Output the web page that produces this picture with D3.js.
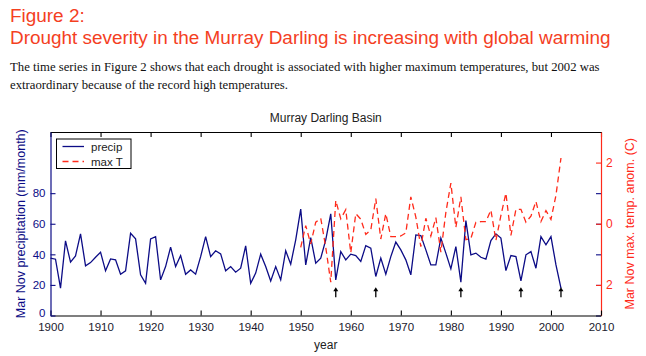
<!DOCTYPE html>
<html><head><meta charset="utf-8">
<script src="https://cdn.jsdelivr.net/npm/d3@7/dist/d3.min.js"></script>
<style>body{margin:0;background:#fff}svg{display:block}</style>
</head><body><svg id="c" width="646" height="356"></svg>
<script>
// ---- data ----
const precipStart = 1900;
const precip = [37.5,36.8,17.9,48.8,34.9,39.0,53.4,32.5,34.6,38.1,
  41.4,29.2,37.0,36.4,27.0,29.2,53.8,50.1,26.6,21.1,
  50.1,51.6,23.3,32.0,44.7,32.0,39.2,27.0,29.8,27.0,
  38.5,51.6,38.5,42.3,40.3,29.2,32.0,28.3,30.9,45.5,
  21.1,27.7,40.1,32.0,22.6,32.0,23.3,42.3,33.6,49.5,
  69.6,33.1,51.0,34.2,37.5,49.5,66.5,23.3,41.8,36.4,
  40.1,39.2,35.3,45.7,44.0,25.5,37.5,27.0,38.5,48.0,
  42.9,36.4,26.6,52.7,52.3,42.9,33.1,33.1,50.6,40.8,
  30.5,45.1,21.8,62.1,39.7,40.8,38.1,36.8,49.0,53.4,
  50.6,29.4,39.2,38.5,22.6,39.7,41.8,30.9,51.6,46.2,
  51.6,33.1,17.9];
const tempStart = 1950;
const maxT = [-0.77,-0.06,-0.66,0.05,0.18,-0.77,-1.91,0.76,0.16,0.46,
  -0.95,0.33,0.15,-0.35,-0.2,0.82,-0.5,0.33,-0.42,-0.42,
  -0.4,-0.3,0.88,0.22,-0.75,0.18,-0.4,0.2,-0.93,0.37,
  1.33,-0.12,0.88,-0.52,-0.48,0.05,0.07,0.07,0.45,-0.55,
  0.27,1.0,-0.38,0.47,0.47,0.05,0.25,0.73,0.07,0.43,
  0.14,0.93,2.15];
const droughtYears = [1957,1965,1982,1994,2002];
const xTicks = [1900,1910,1920,1930,1940,1950,1960,1970,1980,1990,2000,2010];
const yLeftTicks = [0,20,40,60,80];
const yRightTicks = [-2,0,2];
const seriesNames = ["precip","max T"];

const NAVY = "#0c0c86", RED = "#ff2a1a", TITLE = "#f4401f";
const svg = d3.select("#c");

// ---- header texts ----
function fit(sel, w){
  const cur = parseFloat(sel.attr("font-size"));
  const len = sel.node().getComputedTextLength();
  sel.attr("font-size", cur*w/len);
  return cur*w/len;
}
const t2 = svg.append("text").attr("x",10).attr("y",44).attr("font-family","Liberation Sans, Arial, sans-serif")
  .attr("font-size",20).attr("fill",TITLE).text("Drought severity in the Murray Darling is increasing with global warming");
const fs = fit(t2, 601);
svg.append("text").attr("x",10).attr("y",22).attr("font-family","Liberation Sans, Arial, sans-serif")
  .attr("font-size",fs).attr("fill",TITLE).text("Figure 2:");
const p1 = svg.append("text").attr("x",10).attr("y",71).attr("font-family","Liberation Serif, Times New Roman, serif")
  .attr("font-size",13).attr("fill","#111").text("The time series in Figure 2 shows that each drought is associated with higher maximum temperatures, but 2002 was");
const pfs = fit(p1, 590);
svg.append("text").attr("x",10).attr("y",89).attr("font-family","Liberation Serif, Times New Roman, serif")
  .attr("font-size",pfs).attr("fill","#111").text("extraordinary because of the record high temperatures.");

// ---- chart ----
const L = 50.5, R = 601, T = 132, B = 315.5;
const x = d3.scaleLinear().domain([1900,2010]).range([L,R]);
const yL = d3.scaleLinear().domain([0,120]).range([B,T]);
const yR = d3.scaleLinear().domain([-3,3]).range([B,T]);
const FONT = "Liberation Sans, Arial, sans-serif";

svg.append("rect").attr("x",L).attr("y",T).attr("width",R-L).attr("height",B-T).attr("fill","#fff");

function styleAxis(g, color, fsz){
  g.select(".domain").attr("stroke",color).attr("stroke-width",1.2);
  g.selectAll(".tick line").attr("stroke",color).attr("stroke-width",1.1);
  g.selectAll(".tick text").attr("fill",color).attr("font-family",FONT).attr("font-size",fsz);
}
// top axis
const gTop = svg.append("g").attr("transform",`translate(0,${T})`)
  .call(d3.axisTop(x).tickValues(xTicks).tickSize(-5).tickSizeOuter(0).tickFormat(""));
styleAxis(gTop,"#000",11);
// right mirrored left ticks
const gRm = svg.append("g").attr("transform",`translate(${R},0)`)
  .call(d3.axisRight(yL).tickValues(yLeftTicks).tickSize(-5).tickSizeOuter(0).tickFormat(""));
styleAxis(gRm,NAVY,11);
gRm.select(".domain").remove();
// right axis
const gR = svg.append("g").attr("transform",`translate(${R},0)`)
  .call(d3.axisRight(yR).tickValues(yRightTicks).tickSize(-5).tickSizeOuter(0).tickPadding(5).tickFormat(d=>Math.abs(d)));
styleAxis(gR,RED,12);
// bottom axis
const gB = svg.append("g").attr("transform",`translate(0,${B})`)
  .call(d3.axisBottom(x).tickValues(xTicks).tickSize(-5).tickSizeOuter(0).tickPadding(7).tickFormat(d3.format("d")));
styleAxis(gB,"#000",11.5);
gB.selectAll(".tick text").attr("fill","#1a1a2e");
// left axis
const gL = svg.append("g").attr("transform",`translate(${L},0)`)
  .call(d3.axisLeft(yL).tickValues(yLeftTicks).tickSize(-5).tickSizeOuter(0).tickPadding(5));
styleAxis(gL,NAVY,11.5);
gL.selectAll(".tick").filter(d=>d===0).select("text").attr("dy","0.1em");

// lines
const pData = precip.map((v,i)=>({yr:precipStart+i, v}));
const tData = maxT.map((v,i)=>({yr:tempStart+i, v}));
svg.append("path").datum(pData).attr("fill","none").attr("stroke",NAVY).attr("stroke-width",1.3)
  .attr("stroke-linejoin","miter")
  .attr("d", d3.line().x(d=>x(d.yr)).y(d=>yL(d.v)));
svg.append("path").datum(tData).attr("fill","none").attr("stroke",RED).attr("stroke-width",1.3)
  .attr("stroke-dasharray","6,4")
  .attr("d", d3.line().x(d=>x(d.yr)).y(d=>yR(d.v)));

// arrows
const ag = svg.append("g");
droughtYears.forEach(yr=>{
  const xx = x(yr), y0 = yL(12), y1 = yL(18.5);
  ag.append("line").attr("x1",xx).attr("x2",xx).attr("y1",y0).attr("y2",y1+3).attr("stroke","#000").attr("stroke-width",1.3);
  ag.append("path").attr("d",`M${xx-2.5},${y1+4}L${xx},${y1}L${xx+2.5},${y1+4}Z`).attr("fill","#000");
});

// legend
const lg = svg.append("g");
lg.append("rect").attr("x",56.5).attr("y",139).attr("width",74.5).attr("height",29.5)
  .attr("fill","#fff").attr("stroke","#000").attr("stroke-width",1);
[[NAVY,null,146.5],[RED,"6,4",161.5]].forEach((s,i)=>{
  lg.append("line").attr("x1",62.5).attr("x2",84).attr("y1",s[2]).attr("y2",s[2])
    .attr("stroke",s[0]).attr("stroke-width",1.3).attr("stroke-dasharray",s[1]);
  lg.append("text").attr("x",91).attr("y",s[2]+4).attr("font-family",FONT).attr("font-size",11.5)
    .attr("fill","#222").text(seriesNames[i]);
});

// titles
svg.append("text").attr("x",(L+R)/2).attr("y",122).attr("text-anchor","middle").attr("font-family",FONT)
  .attr("font-size",12).attr("fill","#222").text("Murray Darling Basin");
svg.append("text").attr("x",(L+R)/2).attr("y",349).attr("text-anchor","middle").attr("font-family",FONT)
  .attr("font-size",12).attr("fill","#222").text("year");
svg.append("text").attr("transform",`translate(25,${(T+B)/2}) rotate(-90)`).attr("text-anchor","middle")
  .attr("font-family",FONT).attr("font-size",12.5).attr("fill",NAVY).text("Mar Nov precipitation (mm/month)");
svg.append("text").attr("transform",`translate(634,${(T+B)/2}) rotate(-90)`).attr("text-anchor","middle")
  .attr("font-family",FONT).attr("font-size",12.5).attr("fill",RED).text("Mar Nov max. temp. anom. (C)");
</script></body></html>
